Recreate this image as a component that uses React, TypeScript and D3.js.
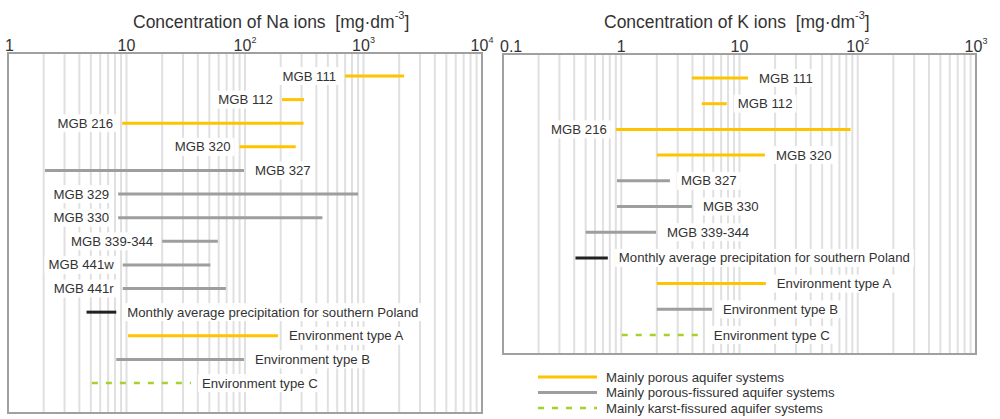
import React from "react";
import * as d3 from "d3";

// ---- Na panel data ----
const naNames = ["MGB 111", "MGB 112", "MGB 216", "MGB 320", "MGB 327", "MGB 329", "MGB 330", "MGB 339-344", "MGB 441w", "MGB 441r", "Monthly average precipitation for southern Poland", "Environment type A", "Environment type B", "Environment type C"];
const naMin = [700, 205, 9.2, 90, 2.05, 8.5, 8.5, 20, 9.3, 9.3, 4.6, 10.3, 8.2, 5.1];
const naMax = [2200, 315, 312, 268, 98, 900, 450, 59, 51, 69, 8.2, 190, 98, 35];
const naType = ["porous", "porous", "porous", "porous", "fissured", "fissured", "fissured", "fissured", "fissured", "fissured", "precip", "porous", "fissured", "karst"];
const naSide = ["L", "L", "L", "L", "R", "L", "L", "L", "L", "L", "R", "R", "R", "R"];
const naTicks = [1, 10, 100, 1000, 10000];

// ---- K panel data ----
const kNames = ["MGB 111", "MGB 112", "MGB 216", "MGB 320", "MGB 327", "MGB 330", "MGB 339-344", "Monthly average precipitation for southern Poland", "Environment type A", "Environment type B", "Environment type C"];
const kMin = [3.96, 4.8, 0.9, 2.0, 0.92, 0.92, 0.5, 0.41, 2.0, 2.0, 1.01];
const kMax = [11.8, 7.8, 87, 16.4, 2.58, 3.96, 1.97, 0.77, 16.7, 5.85, 4.9];
const kType = ["porous", "porous", "porous", "porous", "fissured", "fissured", "fissured", "precip", "porous", "fissured", "karst"];
const kSide = ["R", "R", "L", "R", "R", "R", "R", "R", "R", "R", "R"];
const kTicks = [0.1, 1, 10, 100, 1000];

const legendTypes = ["porous", "fissured", "karst"];
const legendLabels = ["Mainly porous aquifer systems", "Mainly porous-fissured aquifer systems", "Mainly karst-fissured aquifer systems"];

const COLORS: Record<string, string> = {
  porous: "#ffc400",
  fissured: "#9e9e9e",
  precip: "#222222",
  karst: "#a6d12a",
};
const FONT = "'Liberation Sans', Arial, Helvetica, sans-serif";
const TEXT = "#333333";

function tickLabel(v: number) {
  const e = Math.round(Math.log10(v));
  if (v < 1 || e <= 1) return { base: String(v), sup: "" };
  return { base: "10", sup: String(e) };
}

function Label(props: { x: number; y: number; text: string; anchor: "start" | "end"; fs: number }) {
  const { x, y, text, anchor, fs } = props;
  const ref = React.useRef<SVGTextElement>(null);
  const [w, setW] = React.useState(0);
  React.useLayoutEffect(() => {
    if (ref.current) setW(ref.current.getComputedTextLength());
  }, [text]);
  const rx = anchor === "start" ? x - 4 : x - w - 4;
  return (
    <g>
      {w > 0 ? <rect x={rx} y={y - 9} width={w + 8} height={18} fill="#ffffff" fillOpacity={0.92} /> : null}
      <text ref={ref} x={x} y={y + 4.5} textAnchor={anchor} fontSize={fs} fontFamily={FONT} fill={TEXT}>{text}</text>
    </g>
  );
}

function Panel(props: {
  x0: number; x1: number; y0: number; y1: number;
  rowTop: number; rowBottom: number;
  domain: [number, number];
  names: string[]; mins: number[]; maxs: number[]; types: string[]; sides: string[];
  ticks: number[];
}) {
  const { x0, x1, y0, y1, rowTop, rowBottom, domain, names, mins, maxs, types, sides, ticks } = props;
  const x = d3.scaleLog().domain(domain).range([x0, x1]);
  const y = d3.scalePoint<number>().domain(names.map((_, i) => i)).range([rowTop, rowBottom]);
  const grid: number[] = [];
  const lo = Math.round(Math.log10(domain[0]));
  const hi = Math.round(Math.log10(domain[1]));
  for (let e = lo; e < hi; e++) {
    for (let m = 1; m <= 9; m++) {
      if (m === 1 && e === lo) continue;
      grid.push(m * Math.pow(10, e));
    }
  }
  const fs = 13.2;
  return (
    <g>
      <rect x={x0} y={y0} width={x1 - x0} height={y1 - y0} fill="#ffffff" />
      {grid.map((v, i) => (
        <line key={"g" + i} x1={x(v)} x2={x(v)} y1={y0} y2={y1} stroke="#e0e0e0" strokeWidth={2} />
      ))}
      <rect x={x0} y={y0} width={x1 - x0} height={y1 - y0} fill="none" stroke="#a0a0a0" strokeWidth={2} />
      {ticks.map((v, i) => {
        const t = tickLabel(v);
        const first = i === 0;
        return (
          <text key={"t" + i} x={first ? x(v) - 3 : x(v)} y={y0 - 2} fontSize={16} fontFamily={FONT} fill={TEXT}
            textAnchor={first ? "start" : "middle"}>
            {t.base}
            {t.sup ? <tspan fontSize={9} dy={-8}>{t.sup}</tspan> : null}
          </text>
        );
      })}
      {names.map((n, i) => {
        const yy = y(i) as number;
        const a = x(mins[i]);
        const b = x(maxs[i]);
        const left = sides[i] === "L";
        const tx = left ? a - 9 : b + 11;
        return (
          <g key={"r" + i}>
            <Label x={tx} y={yy} text={n} anchor={left ? "end" : "start"} fs={fs} />
            <line x1={a} x2={b} y1={yy} y2={yy} stroke={COLORS[types[i]]} strokeWidth={types[i] === "karst" ? 2.5 : 3}
              strokeDasharray={types[i] === "karst" ? "6,8" : undefined} />
          </g>
        );
      })}
    </g>
  );
}

export default function App() {
  const ly = d3.scalePoint<number>().domain(legendTypes.map((_, i) => i)).range([377, 408]);
  return (
    <svg width={1000} height={419} style={{ position: "absolute", left: 0, top: 0, background: "#fff" }}>
      <text x={133} y={28} fontSize={17.5} fontFamily={FONT} fill={TEXT}>
        Concentration of Na ions{"\u00a0\u00a0"}[mg·dm<tspan fontSize={11} dy={-9}>-3</tspan><tspan dy={9}>]</tspan>
      </text>
      <text x={604} y={28} fontSize={17.5} fontFamily={FONT} fill={TEXT}>
        Concentration of K ions{"\u00a0\u00a0"}[mg·dm<tspan fontSize={11} dy={-9}>-3</tspan><tspan dy={9}>]</tspan>
      </text>
      <Panel x0={8} x1={482} y0={53} y1={413} rowTop={76} rowBottom={383} domain={[1, 10000]}
        names={naNames} mins={naMin} maxs={naMax} types={naType} sides={naSide} ticks={naTicks} />
      <Panel x0={503} x1={976} y0={54} y1={354} rowTop={78} rowBottom={335} domain={[0.1, 1000]}
        names={kNames} mins={kMin} maxs={kMax} types={kType} sides={kSide} ticks={kTicks} />
      {legendTypes.map((t, i) => (
        <g key={"l" + i}>
          <line x1={538} x2={597} y1={ly(i) as number} y2={ly(i) as number} stroke={COLORS[t]} strokeWidth={t === "karst" ? 2.5 : 3}
            strokeDasharray={t === "karst" ? "6,8" : undefined} />
          <text x={606} y={(ly(i) as number) + 4.5} fontSize={13.2} fontFamily={FONT} fill={TEXT}>{legendLabels[i]}</text>
        </g>
      ))}
    </svg>
  );
}
